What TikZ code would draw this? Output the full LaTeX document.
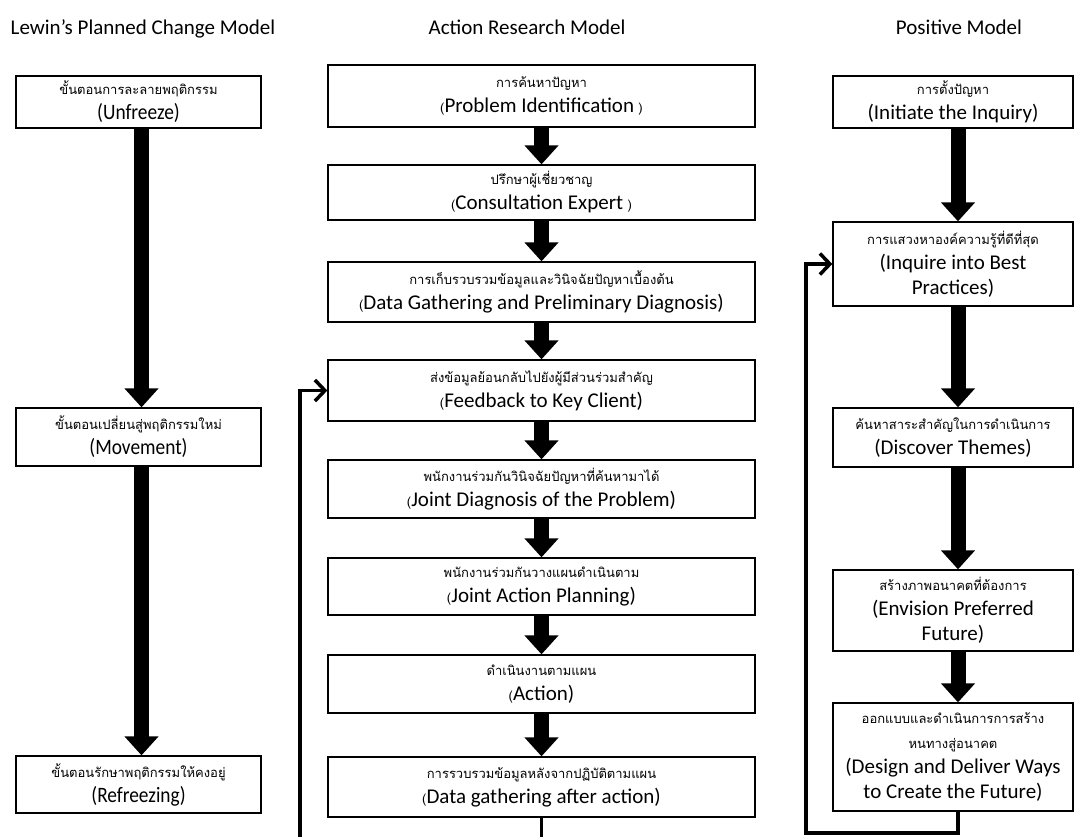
\documentclass[tikz,border=0pt]{standalone}
\usepackage{fontspec}
\setmainfont{Carlito}
\newfontfamily\thai[Script=Thai]{Loma}
\newfontfamily\narrow[FakeStretch=0.88]{Carlito}
\usetikzlibrary{arrows.meta}

% Thai caption line and small parentheses
\newcommand\thl[1]{{\thai\fontsize{13}{16}\selectfont #1}}
\newcommand\smlp{{\thai\fontsize{13}{16}\selectfont (}}
\newcommand\smrp{{\thai\fontsize{13}{16}\selectfont\ )}}

\begin{document}
\begin{tikzpicture}[x=1pt,y=-1pt,
  title/.style={font=\fontsize{21}{24}\selectfont, inner sep=0pt, anchor=base},
  box/.style={draw=black, line width=1.3pt, rectangle, inner sep=0pt,
    align=center, font=\fontsize{21}{25}\selectfont},
  lbox/.style={box, minimum width=245pt},
  abox/.style={box, minimum width=427pt},
  pbox/.style={box, minimum width=240pt},
  lewin/.style={font=\narrow\fontsize{22}{25}\selectfont},
  flow/.style={line width=15pt, -{Triangle[width=33pt,length=19pt]}},
  back/.style={line width=3.5pt, -{Straight Barb[length=10pt,width=21pt]}}]
\useasboundingbox (0,0) rectangle (1076,836);

% column titles
\node[title] (t1) at (143,34) {Lewin’s Planned Change Model};
\node[title] (t2) at (527,34) {Action Research Model};
\node[title] (t3) at (959,34) {Positive Model};

% Lewin's planned change model
\node[lbox, lewin, minimum height=52pt] (u) at (138.5,102)
  {\thl{ขั้นตอนการละลายพฤติกรรม}\\(Unfreeze)};
\node[lbox, lewin, minimum height=58pt] (m) at (138.5,437)
  {\thl{ขั้นตอนเปลี่ยนสู่พฤติกรรมใหม่}\\(Movement)};
\node[lbox, lewin, minimum height=57pt] (r) at (138.5,784.5)
  {\thl{ขั้นตอนรักษาพฤติกรรมให้คงอยู่}\\(Refreezing)};

% action research model
\node[abox, minimum height=62pt] (a1) at (541.5,96)
  {\thl{การค้นหาปัญหา}\\\smlp Problem Identification\smrp};
\node[abox, minimum height=55pt] (a2) at (541.5,192.5)
  {\thl{ปรึกษาผู้เชี่ยวชาญ}\\\smlp Consultation Expert\smrp};
\node[abox, minimum height=60pt] (a3) at (541.5,292)
  {\thl{การเก็บรวบรวมข้อมูลและวินิจฉัยปัญหาเบื้องต้น}\\\smlp Data Gathering and Preliminary Diagnosis)};
\node[abox, minimum height=61pt] (a4) at (541.5,390.5)
  {\thl{ส่งข้อมูลย้อนกลับไปยังผู้มีส่วนร่วมสำคัญ}\\\smlp Feedback to Key Client)};
\node[abox, minimum height=58pt] (a5) at (541.5,489)
  {\thl{พนักงานร่วมกันวินิจฉัยปัญหาที่ค้นหามาได้}\\\smlp Joint Diagnosis of the Problem)};
\node[abox, minimum height=57pt] (a6) at (541.5,586.5)
  {\thl{พนักงานร่วมกันวางแผนดำเนินตาม}\\\smlp Joint Action Planning)};
\node[abox, minimum height=58pt] (a7) at (541.5,684)
  {\thl{ดำเนินงานตามแผน}\\\smlp Action)};
\node[abox, minimum height=60pt] (a8) at (541.5,787)
  {\thl{การรวบรวมข้อมูลหลังจากปฏิบัติตามแผน}\\\smlp Data gathering after action)};

% positive model
\node[pbox, minimum height=52pt] (p1) at (953,102)
  {\thl{การตั้งปัญหา}\\(Initiate the Inquiry)};
\node[pbox, minimum height=84pt] (p2) at (953,264)
  {\thl{การแสวงหาองค์ความรู้ที่ดีที่สุด}\\(Inquire into Best\\Practices)};
\node[pbox, minimum height=59pt] (p3) at (953,437.5)
  {\thl{ค้นหาสาระสำคัญในการดำเนินการ}\\(Discover Themes)};
\node[pbox, minimum height=81pt] (p4) at (953,610.5)
  {\thl{สร้างภาพอนาคตที่ต้องการ}\\(Envision Preferred\\Future)};
\node[pbox, minimum height=108pt] (p5) at (953,757)
  {\thl{ออกแบบและดำเนินการการสร้าง}\\\thl{หนทางสู่อนาคต}\\(Design and Deliver Ways\\to Create the Future)};

% block arrows
\draw[flow] ([xshift=3pt]u.south) -- ([xshift=3pt]m.north);
\draw[flow] ([xshift=3pt]m.south) -- ([xshift=3pt]r.north);
\foreach \a/\b in {a1/a2,a2/a3,a3/a4,a4/a5,a5/a6,a6/a7,a7/a8}
  \draw[flow] (\a.south) -- (\b.north);
\foreach \a/\b in {p1/p2,p2/p3,p3/p4,p4/p5}
  \draw[flow] ([xshift=5pt]\a.south) -- ([xshift=5pt]\b.north);

% feedback loops
\coordinate (lb) at (300,850);
\coordinate (rb) at (806,833);
\draw[back] (a8.south) |- (lb) |- (a4.west);
\draw[back] ([xshift=5pt]p5.south) |- (rb) |- (p2.west);
\end{tikzpicture}
\end{document}
